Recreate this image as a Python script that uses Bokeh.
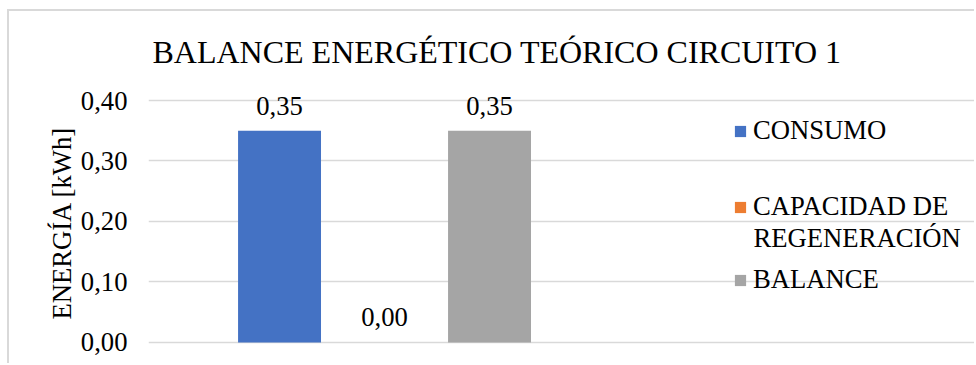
from bokeh.plotting import figure
from bokeh.models import (ColumnDataSource, Range1d, Legend, LegendItem,
                          FixedTicker, LabelSet, Label)
from bokeh.embed import file_html
from bokeh.resources import INLINE

# ---- data ----
series = ["CONSUMO", "CAPACIDAD DE\nREGENERACIÓN", "BALANCE"]
values = [0.35, 0.00, 0.35]
colors = ["#4472C4", "#ED7D31", "#A5A5A5"]
y_ticks = [0.0, 0.1, 0.2, 0.3, 0.4]
y_tick_labels = ["0,00", "0,10", "0,20", "0,30", "0,40"]
title_text = "BALANCE ENERGÉTICO TEÓRICO CIRCUITO 1"
y_label = "ENERGÍA [kWh]"

FONT = "Liberation Serif"
TXT = "#000000"
GRID = "#D9D9D9"

xs = list(range(len(series)))
labels = [f"{v:.2f}".replace(".", ",") for v in values]
src = ColumnDataSource(dict(x=xs, v=values, c=colors, lab=labels))

X0, X1 = -1.248, 6.638      # frame spans to right edge (legend lives inside frame)
GRID_X1 = 3.933             # grid lines stop where Excel's plot area ends
Y0, Y1 = -0.0298, 0.4248

p = figure(width=967, height=354, output_backend="svg", toolbar_location=None,
           x_range=Range1d(X0, X1), y_range=Range1d(Y0, Y1),
           min_border_left=139, min_border_right=0, min_border_top=74,
           min_border_bottom=5)
p.margin = (9, 0, 0, 7)
p.styles = {"border-top": "2px solid #D9D9D9", "border-left": "2px solid #D9D9D9"}

p.title.text = title_text
p.title.text_font = FONT
p.title.text_font_size = "24pt"
p.title.text_font_style = "normal"
p.title.text_color = TXT
p.title.align = "left"
p.title.offset = 4
p.title.standoff = 31

r = p.vbar(x="x", top="v", width=0.79, color="c", line_color=None, source=src)

p.add_layout(LabelSet(x="x", y="v", text="lab", source=src, y_offset=16,
                      text_align="center", text_baseline="alphabetic",
                      text_font=FONT, text_font_size="20pt", text_color=TXT))

p.xaxis.visible = False
p.xgrid.visible = False
p.yaxis.ticker = FixedTicker(ticks=y_ticks)
p.yaxis.major_label_overrides = {t: l for t, l in zip(y_ticks, y_tick_labels)}
p.yaxis.axis_line_color = None
p.yaxis.major_tick_line_color = None
p.yaxis.minor_tick_line_color = None
p.yaxis.major_label_text_font = FONT
p.yaxis.major_label_text_font_size = "20pt"
p.yaxis.major_label_text_color = TXT
p.yaxis.major_label_standoff = 15
p.yaxis.axis_label = y_label
p.yaxis.axis_label_text_font = FONT
p.yaxis.axis_label_text_font_size = "20pt"
p.yaxis.axis_label_text_font_style = "normal"
p.yaxis.axis_label_text_color = TXT
p.yaxis.axis_label_standoff = 1
p.ygrid.ticker = FixedTicker(ticks=y_ticks)
p.ygrid.bounds = (X0, GRID_X1)
p.ygrid.grid_line_color = GRID
p.ygrid.grid_line_width = 1.5
p.outline_line_color = None

# legend: one block per series; glyph sits beside the first line of each name
locs = [(585, 214), (585, 138), (585, 65)]
for i, (name, loc) in enumerate(zip(series, locs)):
    lines = name.split("\n")
    lg = Legend(items=[LegendItem(label=lines[0], renderers=[r], index=i)],
                location=loc, padding=0, margin=0, spacing=0,
                border_line_color=None, background_fill_alpha=0,
                glyph_width=14, glyph_height=14, label_standoff=6,
                label_text_font=FONT, label_text_font_size="20pt",
                label_text_color=TXT)
    p.add_layout(lg, "center")
    for k, extra in enumerate(lines[1:], start=1):
        p.add_layout(Label(x=loc[0] + 20, y=loc[1] + 15 - 30 * k,
                           x_units="screen", y_units="screen", text=extra,
                           text_baseline="middle", text_align="left",
                           text_font=FONT, text_font_size="20pt",
                           text_color=TXT))

open("out.html", "w").write(file_html(p, INLINE))
